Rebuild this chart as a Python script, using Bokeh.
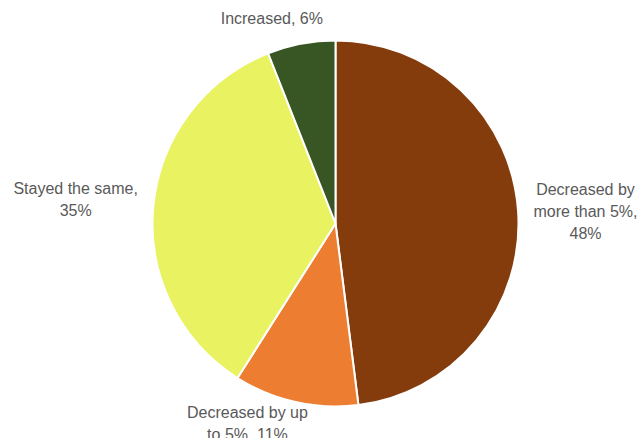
import math
from bokeh.plotting import figure
from bokeh.models import Range1d, ColumnDataSource
from bokeh.core.properties import value
from bokeh.embed import file_html
from bokeh.resources import INLINE

# ---- data ----
categories = ["Decreased by more than 5%", "Decreased by up to 5%", "Stayed the same", "Increased"]
label_texts = ["Decreased by\nmore than 5%,\n48%", "Decreased by up\nto 5%, 11%", "Stayed the same,\n35%", "Increased, 6%"]
shares = [48, 11, 35, 6]
colors = ["#843C0C", "#ED7D31", "#E9F260", "#375623"]

# ---- layout ----
W, H = 641, 438
cx, cy, R = 335, H - 223, 183
gap = 14
char_w, line_h = 8.0, 21.0
# small nudges (screen px: right, down) to mimic the original label placement
nudges = [(1.5, 2), (-32, -13), (0, -3.5), (-17, -1.5)]

total = float(sum(shares))
starts, ends, lx, ly = [], [], [], []
cum = 0.0
for s, txt, (nx, ny) in zip(shares, label_texts, nudges):
    a0 = math.pi / 2 - 2 * math.pi * cum / total
    cum += s
    a1 = math.pi / 2 - 2 * math.pi * cum / total
    starts.append(a0)
    ends.append(a1)
    mid = (a0 + a1) / 2
    dx, dy = math.cos(mid), math.sin(mid)
    lines = txt.split("\n")
    w = max(len(l) for l in lines) * char_w
    h = len(lines) * line_h
    lx.append(cx + dx * (R + gap) + dx * w / 2 + nx)
    ly.append(cy + dy * (R + gap) + dy * h / 2 - ny)

src = ColumnDataSource(dict(start=starts, end=ends, color=colors, cat=categories))
lsrc = ColumnDataSource(dict(x=lx, y=ly, text=label_texts))

p = figure(width=W, height=H, output_backend="svg", toolbar_location=None,
           x_range=Range1d(0, W), y_range=Range1d(0, H), min_border=0,
           background_fill_color="white", border_fill_color="white")
p.axis.visible = False
p.grid.visible = False
p.outline_line_color = None

p.wedge(x=cx, y=cy, radius=R, start_angle="start", end_angle="end", direction="clock",
        fill_color="color", line_color="white", line_width=2, source=src)

p.text(x="x", y="y", text="text", source=lsrc, text_font=value("Liberation Sans"),
       text_font_size="16px", text_color="#595959", text_align="center",
       text_baseline="middle", text_line_height=1.3)

open("out.html", "w").write(file_html(p, INLINE))
